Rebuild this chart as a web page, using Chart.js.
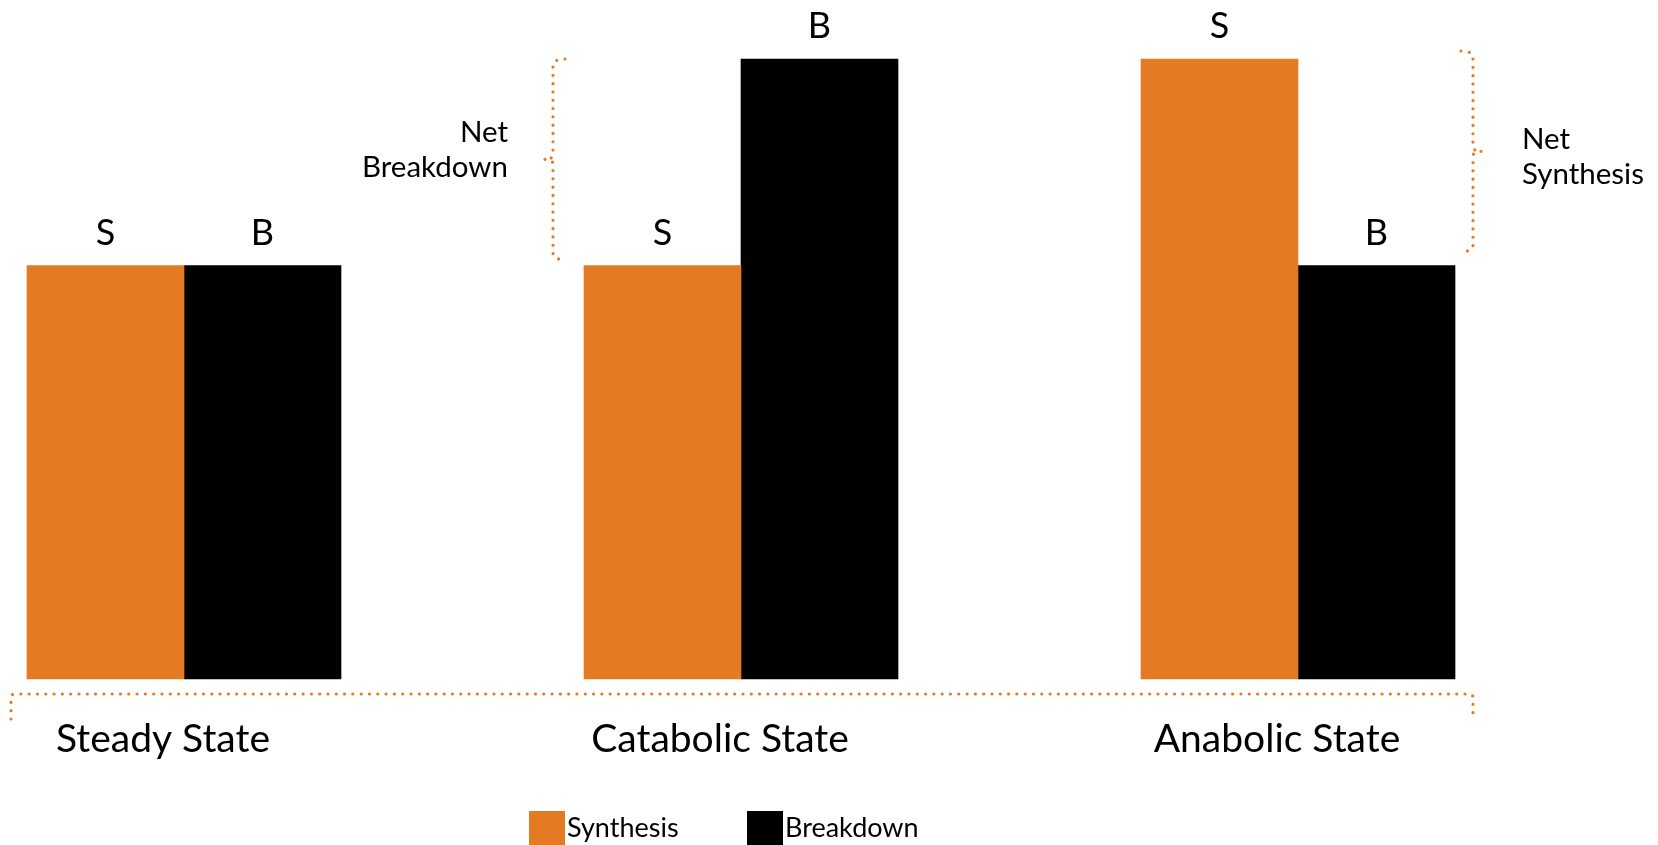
<!DOCTYPE html>
<html>
<head>
<meta charset="utf-8">
<script src="https://cdn.jsdelivr.net/npm/chart.js@4/dist/chart.umd.min.js"></script>
<style>
  html, body { margin: 0; padding: 0; background: #fff; }
  #wrap { width: 1658px; height: 845px; position: relative; }
</style>
</head>
<body>
<div id="wrap"><canvas id="myChart"></canvas></div>
<script>
const categories = ["Steady State", "Catabolic State", "Anabolic State"];
const seriesNames = ["Synthesis", "Breakdown"];
const synthesis = [2, 2, 3];
const breakdown = [2, 3, 2];
const netBreakdownText = ["Net", "Breakdown"];
const netSynthesisText = ["Net", "Synthesis"];

const orange = "#E57A24";
const black = "#000000";
const fontFamily = "Lato, 'Open Sans', sans-serif";

Chart.defaults.font.family = fontFamily;
Chart.defaults.color = "#000";

// dotted orange stroke used for all the braces
function dotted(ctx) {
  ctx.strokeStyle = orange;
  ctx.lineWidth = 3.2;
  ctx.lineCap = "round";
  ctx.setLineDash([0, 8.3]);
}

// curly brace: dir 1 opens to the right "{", -1 opens to the left "}"
function drawBrace(ctx, x, top, bottom, dir) {
  const mid = (top + bottom) / 2;
  ctx.beginPath();
  ctx.moveTo(x + 12 * dir, top);
  ctx.quadraticCurveTo(x, top, x, top + 7);
  ctx.lineTo(x, mid - 5);
  ctx.quadraticCurveTo(x, mid, x - 8 * dir, mid);
  ctx.moveTo(x - 8 * dir, mid);
  ctx.quadraticCurveTo(x, mid, x, mid + 5);
  ctx.lineTo(x, bottom - 7);
  ctx.quadraticCurveTo(x, bottom, x + 12 * dir, bottom);
  ctx.stroke();
}

const annotations = {
  id: "annotations",
  afterDatasetsDraw(chart) {
    const ctx = chart.ctx;

    // S / B tags above each bar
    ctx.save();
    ctx.fillStyle = "#000";
    ctx.font = "36px " + fontFamily;
    ctx.textAlign = "center";
    ctx.textBaseline = "alphabetic";
    chart.data.datasets.forEach((ds, di) => {
      const tag = ds.label.charAt(0);
      chart.getDatasetMeta(di).data.forEach((bar) => {
        ctx.fillText(tag, bar.x, bar.y - 21);
      });
    });
    ctx.restore();
  },
  afterDraw(chart) {
    const ctx = chart.ctx;
    const y = chart.scales.y;
    const area = chart.chartArea;
    const hi = y.getPixelForValue(3);
    const lo = y.getPixelForValue(2);

    const cat = chart.getDatasetMeta(0).data[1];
    const ana = chart.getDatasetMeta(1).data[2];

    ctx.save();
    dotted(ctx);
    drawBrace(ctx, cat.x - cat.width / 2 - 31, hi, lo - 6, 1);
    drawBrace(ctx, ana.x + ana.width / 2 + 18, hi - 8, lo - 14, -1);

    // bracket under all three groups
    const by = area.bottom + 15;
    const bx0 = 11, bx1 = ana.x + ana.width / 2 + 18;
    ctx.beginPath();
    ctx.moveTo(bx0, by + 25);
    ctx.lineTo(bx0, by + 4);
    ctx.quadraticCurveTo(bx0, by, bx0 + 4, by);
    ctx.lineTo(bx1 - 4, by);
    ctx.quadraticCurveTo(bx1, by, bx1, by + 4);
    ctx.lineTo(bx1, by + 25);
    ctx.stroke();
    ctx.restore();

    // brace notes
    ctx.save();
    ctx.fillStyle = "#000";
    ctx.font = "29.5px " + fontFamily;
    ctx.textBaseline = "alphabetic";
    ctx.textAlign = "right";
    netBreakdownText.forEach((t, i) => ctx.fillText(t, 508, 142 + i * 34.5));
    ctx.textAlign = "left";
    netSynthesisText.forEach((t, i) => ctx.fillText(t, 1522, 149 + i * 34.5));
    ctx.restore();

    // legend along the bottom edge
    ctx.save();
    ctx.font = "27px " + fontFamily;
    ctx.textBaseline = "alphabetic";
    ctx.textAlign = "left";
    const legendX = [529, 747];
    chart.data.datasets.forEach((ds, di) => {
      ctx.fillStyle = ds.backgroundColor;
      ctx.fillRect(legendX[di], 811, 36, 36);
      ctx.fillStyle = "#000";
      ctx.fillText(ds.label, legendX[di] + 38, 837);
    });
    ctx.restore();
  }
};

const ctx = document.getElementById("myChart");
const myChart = new Chart(ctx, {
  type: "bar",
  data: {
    labels: categories,
    datasets: [
      {
        label: seriesNames[0],
        data: synthesis,
        backgroundColor: orange,
        clip: false,
      },
      {
        label: seriesNames[1],
        data: breakdown,
        backgroundColor: black,
        clip: false,
      },
    ],
  },
  options: {
    responsive: true,
    maintainAspectRatio: false,
    animation: false,
    barThickness: 157,
    layout: {
      padding: { left: 184, right: 360, top: 59, bottom: 0 },
    },
    plugins: {
      legend: { display: false },
      tooltip: { enabled: false },
    },
    scales: {
      x: {
        offset: false,
        grid: { display: false, drawTicks: false },
        border: { display: false },
        ticks: {
          font: { size: 39 },
          color: "#000",
          padding: 37,
          labelOffset: -21,
          maxRotation: 0,
          autoSkip: false,
        },
        afterFit(scale) {
          scale.height = 166;
        },
      },
      y: {
        display: false,
        min: 0,
        max: 3,
      },
    },
  },
  plugins: [annotations],
});
</script>
</body>
</html>
